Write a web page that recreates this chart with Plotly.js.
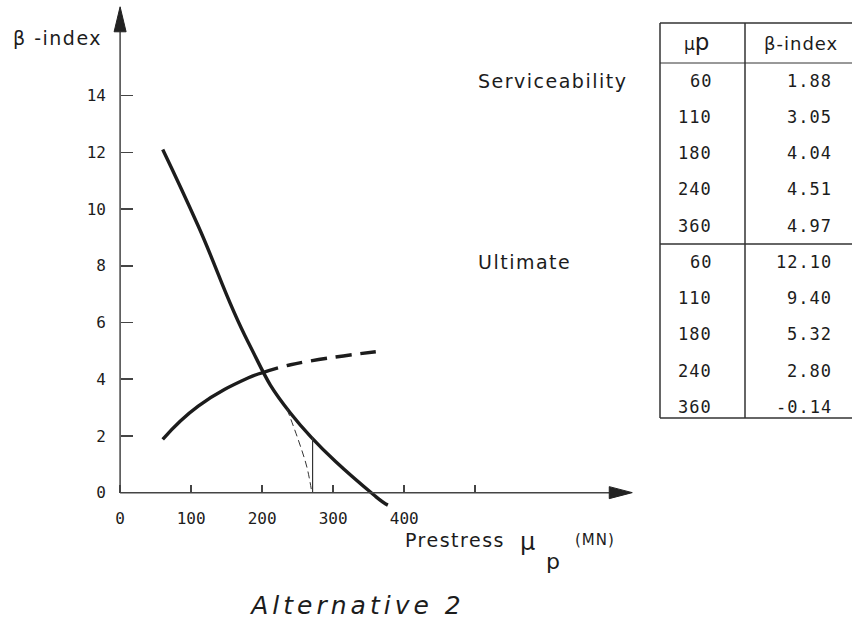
<!DOCTYPE html>
<html><head><meta charset="utf-8">
<script src="https://cdn.plot.ly/plotly-3.0.1.min.js"></script>
<style>html,body{margin:0;padding:0;background:#fff}</style>
</head><body><div id="chart" style="width:852px;height:621px"></div>
<script>
const prestress = [60, 110, 180, 240, 360];
const betaServ = [1.88, 3.05, 4.04, 4.51, 4.97];
const betaUlt = [12.10, 9.40, 5.32, 2.80, -0.14];
const betaServText = ['1.88', '3.05', '4.04', '4.51', '4.97'];
const betaUltText = ['12.10', '9.40', '5.32', '2.80', '-0.14'];
// curves as drawn in the picture (table points + crossing / end points)
const ultCurveX = [60, 110, 180, 240, 360, 377];
const ultCurveY = [12.10, 9.40, 5.32, 2.80, -0.14, -0.44];
const servSolidX = [60, 110, 180, 201];
const servSolidY = [1.88, 3.05, 4.04, 4.23];
const servDashX = [201, 240, 360];
const servDashY = [4.23, 4.51, 4.97];
const tangentX = [235, 251, 263, 270];
const tangentY = [2.95, 1.85, 0.90, 0.00];
const markX = [271, 271];
const markY = [0, 1.95];
const xTickVals = [0, 100, 200, 300, 400, 500];
const xTickText = ['0', '100', '200', '300', '400', ''];
const yTickVals = [0, 2, 4, 6, 8, 10, 12, 14];

// ---- layout helpers ----
const W = 852, H = 621;
const L = 113, R = 640, T = 4, B = 521;
const fx = px => (px - L) / (R - L);
const fy = py => (B - py) / (B - T);
const ink = '#1c1c1c';
const sp = (t, s) => '<span style="letter-spacing:' + s + 'px">' + t + '</span>';

const traces = [
  {x: ultCurveX, y: ultCurveY, mode: 'lines', line: {shape: 'spline', smoothing: 1.3, color: ink, width: 3.4}, hoverinfo: 'skip'},
  {x: servSolidX, y: servSolidY, mode: 'lines', line: {shape: 'spline', smoothing: 1.3, color: ink, width: 3.4}, hoverinfo: 'skip'},
  {x: servDashX, y: servDashY, mode: 'lines', line: {shape: 'spline', smoothing: 1.3, color: ink, width: 3.4, dash: '16px,9px'}, hoverinfo: 'skip'},
  {x: tangentX, y: tangentY, mode: 'lines', line: {shape: 'spline', color: '#333', width: 1, dash: '7px,4px'}, hoverinfo: 'skip'},
  {x: markX, y: markY, mode: 'lines', line: {color: '#333', width: 1.2}, hoverinfo: 'skip'}
];

const shapes = [];
const annotations = [];
// axes lines + arrowheads
const yTop = 16.25, xEnd = 688.7;
shapes.push({type: 'line', xref: 'x', yref: 'y', x0: 0, x1: 0, y0: 0, y1: yTop, line: {color: '#444', width: 1.5}});
shapes.push({type: 'line', xref: 'x', yref: 'y', x0: 0, x1: xEnd, y0: 0, y1: 0, line: {color: '#444', width: 1.5}});
shapes.push({type: 'path', xref: 'x', yref: 'y', xsizemode: 'pixel', ysizemode: 'pixel', xanchor: 0, yanchor: yTop,
  path: 'M -6 0 L 6 0 L 0 25 Z', fillcolor: '#222', line: {color: '#222', width: 1}});
shapes.push({type: 'path', xref: 'x', yref: 'y', xsizemode: 'pixel', ysizemode: 'pixel', xanchor: xEnd, yanchor: 0,
  path: 'M 0 -6 L 0 6 L 23 0 Z', fillcolor: '#222', line: {color: '#222', width: 1}});

// table
const tL = 660, tM = 745, tR = 852, tTop = 23, tHead = 63, tSep = 244, tBot = 418;
const tl = (x0, y0, x1, y1, w) => shapes.push({type: 'line', xref: 'paper', yref: 'paper',
  x0: fx(x0), y0: fy(y0), x1: fx(x1), y1: fy(y1), line: {color: '#333', width: w || 1.5}});
tl(tL, tTop, tR, tTop);
tl(tL, tBot, tR, tBot);
tl(tL, tTop, tL, tBot);
tl(tM, tTop, tM, tBot);
tl(tL, tHead, tR, tHead, 1);
tl(tL, tSep, tR, tSep);

const rowY = [81, 117, 153, 189, 226, 262, 298, 334, 371, 407];
const monoFont = {family: 'DejaVu Sans Mono', size: 17, color: ink};
const ann = (px, py, text, xanchor, font) => annotations.push({xref: 'paper', yref: 'paper', x: fx(px), y: fy(py),
  xanchor: xanchor, yanchor: 'middle', text: text, showarrow: false, font: font});

ann(696, 42, 'μ<span style="font-size:23px">p</span>', 'center', {family: 'DejaVu Sans', size: 17, color: ink});
ann(801, 43, sp('β-index', 1), 'center', {family: 'DejaVu Sans', size: 18, color: ink});
prestress.forEach((p, i) => {
  ann(714, rowY[i], sp(String(p), 1), 'right', monoFont);
  ann(834, rowY[i], sp(betaServText[i], 1), 'right', monoFont);
  ann(714, rowY[i + 5], sp(String(p), 1), 'right', monoFont);
  ann(834, rowY[i + 5], sp(betaUltText[i], 1), 'right', monoFont);
});
const labFont = {family: 'DejaVu Sans', size: 19, color: ink};
ann(476, 81, sp('Serviceability', 1.5), 'left', labFont);
ann(476, 262, sp('Ultimate', 1.5), 'left', labFont);

// axis titles
ann(57, 38, sp('β -index', 1.5), 'center', labFont);
ann(403, 540, sp('Prestress', 1.5), 'left', labFont);
ann(527, 542, 'μ', 'center', {family: 'DejaVu Sans', size: 24, color: ink});
ann(553, 561, 'p', 'center', {family: 'DejaVu Sans', size: 22, color: ink});
ann(573, 540, sp('(MN)', 1), 'left', {family: 'DejaVu Sans', size: 15, color: ink});

const layout = {
  width: W, height: H,
  margin: {l: L, r: W - R, t: T, b: H - B, pad: 0},
  paper_bgcolor: '#fff', plot_bgcolor: '#fff',
  showlegend: false,
  title: {text: sp('Alternative 2', 4), x: 358 / W, xref: 'container', xanchor: 'center',
    y: (H - 605) / H, yref: 'container', yanchor: 'middle',
    font: {family: 'DejaVu Sans', size: 25, style: 'italic', color: ink}},
  xaxis: {range: [-10, 732], anchor: 'free', position: (B - 492.6) / (B - T), showline: false, showgrid: false, zeroline: false,
    ticks: 'inside', ticklen: 8, tickwidth: 1.5, tickcolor: '#444', tickvals: xTickVals, ticktext: xTickText,
    ticklabelstandoff: 14, tickfont: {family: 'DejaVu Sans Mono', size: 16, color: ink}},
  yaxis: {range: [-1, 17.23], anchor: 'free', position: (120 - L) / (R - L), showline: false, showgrid: false, zeroline: false,
    ticks: 'inside', ticklen: 12, tickwidth: 1.5, tickcolor: '#444', tickvals: yTickVals,
    ticklabelstandoff: 14, tickfont: {family: 'DejaVu Sans Mono', size: 16, color: ink}},
  shapes: shapes,
  annotations: annotations
};
Plotly.newPlot('chart', traces, layout, {displayModeBar: false, staticPlot: true});
</script>
</body></html>
